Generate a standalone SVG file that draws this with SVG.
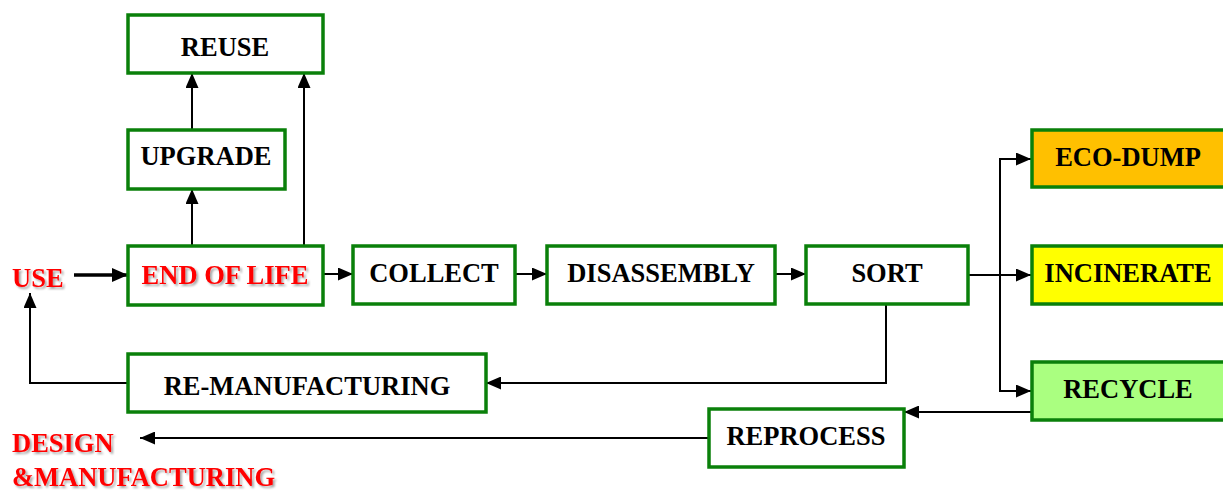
<svg xmlns="http://www.w3.org/2000/svg" width="1223" height="490" viewBox="0 0 1223 490">
<style>
.box{fill:#fff;stroke:#0a800a;stroke-width:3.5}
.t{font-family:"Liberation Serif","Times New Roman",serif;font-weight:bold;font-size:26.5px;fill:#000;text-anchor:middle}
.red{font-family:"Liberation Serif","Times New Roman",serif;font-weight:bold;font-size:26.5px;fill:#ff0000;filter:url(#sh)}
.c{fill:none;stroke:#000;stroke-width:2;marker-end:url(#ah)}
</style>
<defs>
<filter id="sh" x="-10%" y="-20%" width="130%" height="160%">
<feDropShadow dx="2" dy="2" stdDeviation="1" flood-color="#000" flood-opacity="0.35"/>
</filter>
<marker id="ah" markerUnits="userSpaceOnUse" markerWidth="15" markerHeight="13" refX="15" refY="6.5" orient="auto">
<path d="M0,0 L15,6.5 L0,13 z" fill="#000"/>
</marker>
<marker id="ahb" markerUnits="userSpaceOnUse" markerWidth="16" markerHeight="14" refX="16" refY="7" orient="auto">
<path d="M0,0 L16,7 L0,14 z" fill="#000"/>
</marker>
</defs>
<g id="connectors">
<path d="M74,275 H128" fill="none" stroke="#000" stroke-width="3.5" marker-end="url(#ahb)"/>
<path class="c" d="M192,246 V189"/>
<path class="c" d="M192,130 V73"/>
<path class="c" d="M304,246 V73"/>
<path class="c" d="M323,274 H353"/>
<path class="c" d="M515,274 H547"/>
<path class="c" d="M775,274 H806"/>
<path class="c" d="M968,275 H1031"/>
<path class="c" d="M1000,275 V159 H1031"/>
<path class="c" d="M1000,275 V391 H1031"/>
<path class="c" d="M886,304 V383 H486"/>
<path class="c" d="M128,383 H30 V293"/>
<path class="c" d="M1031,412 H904"/>
<path class="c" d="M709,438 H140"/>
</g>
<g id="use"><text class="red" x="12" y="287">USE</text></g>
<g id="design"><text class="red" x="12" y="452">DESIGN</text><text class="red" x="12" y="486">&amp;MANUFACTURING</text></g>
<g id="reuse"><rect class="box" x="128" y="15" width="195" height="58"/><text class="t" x="225" y="56">REUSE</text></g>
<g id="upgrade"><rect class="box" x="128" y="130" width="157" height="59"/><text class="t" x="206" y="165">UPGRADE</text></g>
<g id="eol"><rect class="box" x="128" y="246" width="195" height="59"/><text class="t" x="225" y="284" style="fill:#ff0000;filter:url(#sh)">END OF LIFE</text></g>
<g id="collect"><rect class="box" x="353" y="246" width="162" height="58"/><text class="t" x="434" y="282">COLLECT</text></g>
<g id="disassembly"><rect class="box" x="547" y="246" width="228" height="58"/><text class="t" x="661" y="282">DISASSEMBLY</text></g>
<g id="sort"><rect class="box" x="806" y="246" width="162" height="58"/><text class="t" x="887" y="282">SORT</text></g>
<g id="ecodump"><rect class="box" x="1032" y="130" width="196" height="57" style="fill:#ffc000"/><text class="t" x="1128" y="166">ECO-DUMP</text></g>
<g id="incinerate"><rect class="box" x="1032" y="246" width="196" height="58" style="fill:#ffff00"/><text class="t" x="1128" y="282">INCINERATE</text></g>
<g id="recycle"><rect class="box" x="1032" y="362" width="196" height="58" style="fill:#aaff80"/><text class="t" x="1128" y="398">RECYCLE</text></g>
<g id="remanufacturing"><rect class="box" x="128" y="354" width="358" height="58"/><text class="t" x="307" y="395">RE-MANUFACTURING</text></g>
<g id="reprocess"><rect class="box" x="709" y="409" width="195" height="58"/><text class="t" x="806" y="445">REPROCESS</text></g>
</svg>
